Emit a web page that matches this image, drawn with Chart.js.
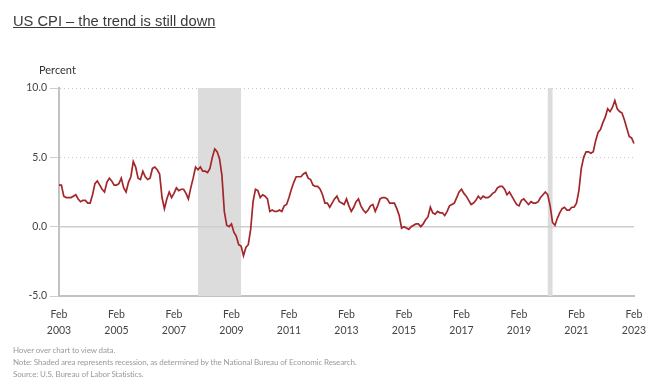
<!DOCTYPE html>
<html><head><meta charset="utf-8">
<script src="https://cdn.jsdelivr.net/npm/chart.js@4.4.0/dist/chart.umd.min.js"></script>
<style>
html,body{margin:0;padding:0;background:#fff;width:652px;height:384px;overflow:hidden;}
#title{position:absolute;left:13px;top:13px;font:14.7px "Liberation Sans",Arial,sans-serif;color:#3a3a3a;text-decoration:underline;white-space:nowrap;}
#unit{position:absolute;left:39px;top:63px;font:11px "Lato",sans-serif;color:#333;}
#notes{position:absolute;left:13px;top:344px;font:8px "Lato",sans-serif;letter-spacing:-0.12px;color:#9a9a9a;line-height:12px;white-space:nowrap;}
#wrap{position:absolute;left:0;top:0;width:652px;height:384px;}
</style></head>
<body>
<div id="wrap"><canvas id="c"></canvas></div>
<div id="title">US CPI – the trend is still down</div>
<div id="unit">Percent</div>
<div id="notes">Hover over chart to view data.<br>Note: Shaded area represents recession, as determined by the National Bureau of Economic Research.<br>Source: U.S. Bureau of Labor Statistics.</div>
<script>
const startYear = 2003;            // series starts Feb 2003
const monthNames = ['Jan','Feb','Mar','Apr','May','Jun','Jul','Aug','Sep','Oct','Nov','Dec'];
// CPI-U, 12-month percent change, Feb 2003 .. Feb 2023
const cpiYoY = [
 3.0,3.0,2.2,2.1,2.1,2.1,2.2,2.3,2.0,1.8,1.9,
 1.9,1.7,1.7,2.3,3.1,3.3,3.0,2.7,2.5,3.2,3.5,3.3,
 3.0,3.0,3.1,3.5,2.8,2.5,3.2,3.6,4.7,4.3,3.5,3.4,
 4.0,3.6,3.4,3.5,4.2,4.3,4.1,3.8,2.1,1.3,2.0,2.5,
 2.1,2.4,2.8,2.6,2.7,2.7,2.4,2.0,2.8,3.5,4.3,4.1,
 4.3,4.0,4.0,3.9,4.2,5.0,5.6,5.4,4.9,3.7,1.1,0.1,
 0.0,0.2,-0.4,-0.7,-1.3,-1.4,-2.1,-1.5,-1.3,-0.2,1.8,2.7,
 2.6,2.1,2.3,2.2,2.0,1.1,1.2,1.1,1.1,1.2,1.1,1.5,
 1.6,2.1,2.7,3.2,3.6,3.6,3.6,3.8,3.9,3.5,3.4,3.0,
 2.9,2.9,2.7,2.3,1.7,1.7,1.4,1.7,2.0,2.2,1.8,1.7,
 1.6,2.0,1.5,1.1,1.4,1.8,2.0,1.5,1.2,1.0,1.2,1.5,
 1.6,1.1,1.5,2.0,2.1,2.1,2.0,1.7,1.7,1.7,1.3,0.8,
 -0.1,0.0,-0.1,-0.2,0.0,0.1,0.2,0.2,0.0,0.2,0.5,0.7,
 1.4,1.0,0.9,1.1,1.0,1.0,0.8,1.1,1.5,1.6,1.7,2.1,
 2.5,2.7,2.4,2.2,1.9,1.6,1.7,1.9,2.2,2.0,2.2,2.1,
 2.1,2.2,2.4,2.5,2.8,2.9,2.9,2.7,2.3,2.5,2.2,1.9,
 1.6,1.5,1.9,2.0,1.8,1.6,1.8,1.7,1.7,1.8,2.1,2.3,
 2.5,2.3,1.5,0.3,0.1,0.6,1.0,1.3,1.4,1.2,1.2,1.4,
 1.4,1.7,2.6,4.2,5.0,5.4,5.4,5.3,5.4,6.2,6.8,7.0,
 7.5,7.9,8.5,8.3,8.6,9.1,8.5,8.3,8.2,7.7,7.1,6.5,
 6.4,6.0
];
// month labels (category axis), beginning Feb 2003
const months = cpiYoY.map((_, i) => {
  const m = (1 + i) % 12, y = startYear + Math.floor((1 + i) / 12);
  return monthNames[m] + ' ' + y;
});
const tickEvery = 24;               // a tick label every two years
const yTicks = [-5, 0, 5, 10];
// NBER recessions, [first month, last month]
const recessions = [['Dec 2007','Jun 2009'], ['Feb 2020','Apr 2020']];

const recessionPlugin = {
  id: 'recession',
  beforeDatasetsDraw(chart) {
    const {ctx, chartArea, scales:{x, y}} = chart;
    ctx.save();
    ctx.fillStyle = '#dcdcdc';
    recessions.forEach(([a, b]) => {
      const x1 = x.getPixelForValue(months.indexOf(a));
      const x2 = x.getPixelForValue(months.indexOf(b));
      ctx.fillRect(x1, y.getPixelForValue(10), x2 - x1, y.getPixelForValue(-5) - y.getPixelForValue(10));
    });
    // zero line
    ctx.strokeStyle = '#cdcdcd';
    ctx.lineWidth = 1.5;
    const y0 = y.getPixelForValue(0);
    ctx.beginPath(); ctx.moveTo(chartArea.left, y0); ctx.lineTo(chartArea.right, y0); ctx.stroke();
    ctx.restore();
  }
};

new Chart(document.getElementById('c'), {
  type: 'line',
  data: { labels: months, datasets: [{
    data: cpiYoY, borderColor: '#a3262a', borderWidth: 1.7, pointRadius: 0, tension: 0, fill: false
  }]},
  options: {
    responsive: true, maintainAspectRatio: false, animation: false,
    layout: { padding: { left: 0, right: 18, top: 88, bottom: 48 } },
    plugins: { legend: { display: false }, tooltip: { enabled: false } },
    scales: {
      x: {
        type: 'category', offset: false,
        grid: { display: false },
        border: { display: true, color: '#c2c2c2', width: 2 },
        ticks: {
          autoSkip: false, maxRotation: 0, minRotation: 0, padding: 2,
          color: '#444', font: { family: '"Lato",sans-serif', size: 10.5, lineHeight: 1.55 },
          callback(v, i) { if (i % tickEvery !== 0) return null; const p = months[i].split(' '); return [p[0], p[1]]; }
        },
        afterFit(s) { s.height = 40; }
      },
      y: {
        min: -5, max: 10,
        afterBuildTicks(s) { s.ticks = yTicks.map(v => ({ value: v })); },
        grid: {
          color: c => (c.tick && (c.tick.value === 0 || c.tick.value === -5)) ? 'rgba(0,0,0,0)' : '#c8c8c8',
          lineWidth: 1, tickColor: '#c5d0de', tickLength: 9, tickWidth: 1
        },
        border: { display: true, color: '#c2c2c2', width: 2, dash: [1, 3] },
        ticks: {
          padding: 3, color: '#444',
          font: { family: '"Lato",sans-serif', size: 10.5 },
          callback: v => v.toFixed(1)
        },
        afterFit(s) { s.width = 59; }
      }
    }
  },
  plugins: [recessionPlugin]
});
</script>
</body></html>
